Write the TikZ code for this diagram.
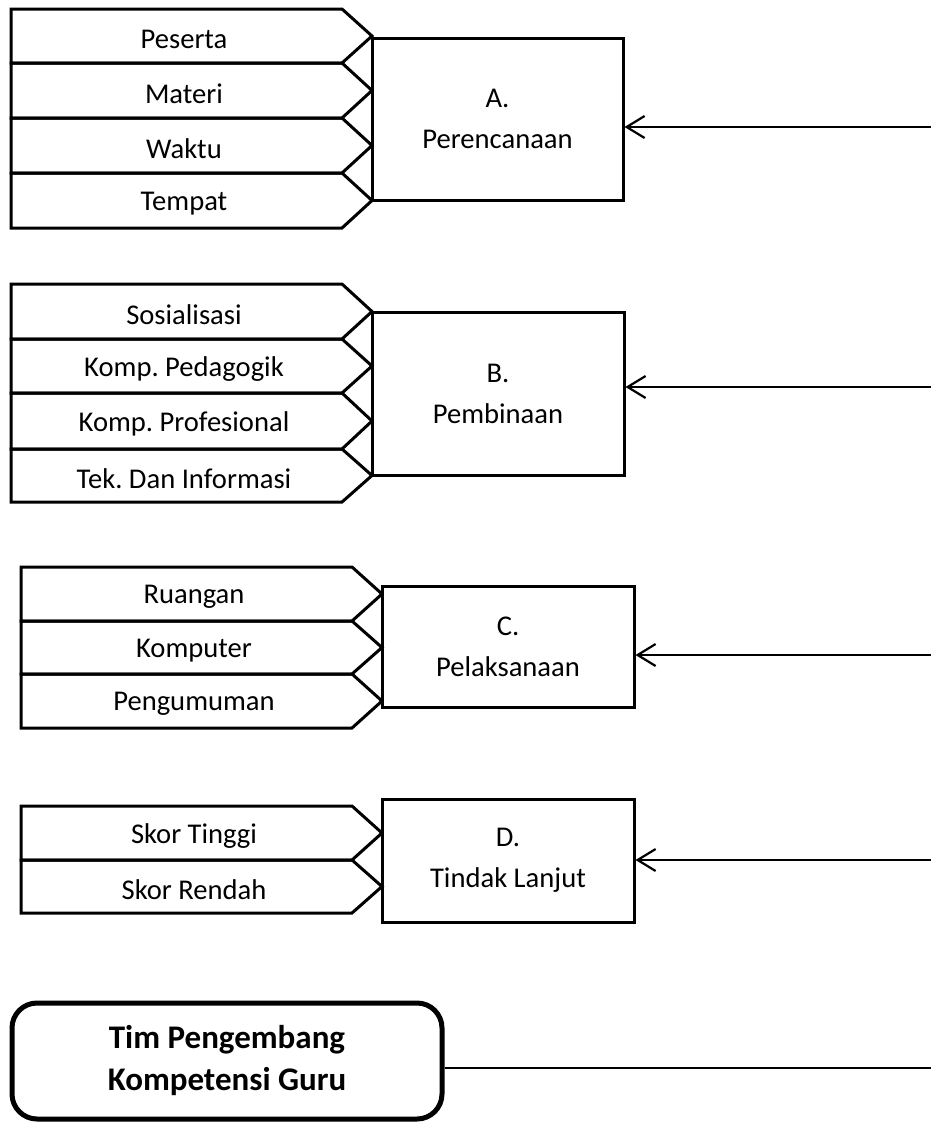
\documentclass[tikz,border=0pt]{standalone}
\usepackage{fontspec}
\setmainfont{Carlito}
\usepackage{tikz}
\usetikzlibrary{arrows.meta}
\frenchspacing
% one arrow-shaped row: name, left x, top y, bottom y, text
\newcommand{\chevrow}[5]{%
  \draw[chev] (#2,#3) -- ({#2+331},#3) -- ({#2+361},{(#3+#4)/2}) -- ({#2+331},#4) -- (#2,#4) -- cycle;
  \node[lbl] (#1) at ({#2+173},{(#3+#4)/2+3}) {#5};}

\begin{document}
\begin{tikzpicture}[x=0.5pt,y=-0.5pt,
    chev/.style={line width=1.5pt, line join=miter},
    lbl/.style={font=\fontsize{14.3}{20}\selectfont, inner sep=0pt},
    stage/.style={draw, line width=1.5pt, align=center, inner sep=0pt,
      font=\fontsize{14.3}{20.5}\selectfont},
    feed/.style={line width=1.1pt, {Straight Barb[length=9pt,width=11pt,line width=1.1pt]}-}]
		\useasboundingbox (0,0) rectangle (931,1124);
		%%%%% START %%%%%
		% A
		\chevrow{peserta}{11}{9}{63}{Peserta}
		\chevrow{materi}{11}{63}{118}{Materi}
		\chevrow{waktu}{11}{118}{173}{Waktu}
		\chevrow{tempat}{11}{173}{228}{Tempat}
		\node[stage, minimum width=125.5pt, minimum height=81pt] (perencanaan) at (497.5,119) {A.\\Perencanaan};
		
		% B
		\chevrow{sosialisasi}{11}{284}{339}{Sosialisasi}
		\chevrow{pedagogik}{11}{339}{393}{Komp. Pedagogik}
		\chevrow{profesional}{11}{393}{449}{Komp. Profesional}
		\chevrow{informasi}{11}{449}{502}{Tek. Dan Informasi}
		\node[stage, minimum width=126pt, minimum height=81.5pt] (pembinaan) at (498,393.5) {B.\\Pembinaan};
		
		% C
		\chevrow{ruangan}{21}{567}{621}{Ruangan}
		\chevrow{komputer}{21}{621}{674}{Komputer}
		\chevrow{pengumuman}{21}{674}{728}{Pengumuman}
		\node[stage, minimum width=126pt, minimum height=60.5pt] (pelaksanaan) at (508,646.5) {C.\\Pelaksanaan};
		
		% D
		\chevrow{tinggi}{21}{806}{860}{Skor Tinggi}
		\chevrow{rendah}{21}{860}{913}{Skor Rendah}
		\node[stage, minimum width=126pt, minimum height=61.5pt] (lanjut) at (508,860.5) {D.\\Tindak Lanjut};
		
		% tim
		\node[draw, line width=2.5pt, rounded corners=12.5pt, minimum width=215pt, minimum height=58pt,
		  align=center, font=\fontsize{16.5}{21}\selectfont\bfseries] (tim) at (227,1061) {Tim Pengembang\\Kompetensi Guru};
		
		\coordinate (inA) at (931,127);
		\coordinate (inB) at (931,387);
		\coordinate (inC) at (931,655);
		\coordinate (inD) at (931,860);
		\coordinate (out) at (931,1068);
		\draw[feed] (perencanaan.east |- inA) -- (inA);
		\draw[feed] (pembinaan.east |- inB) -- (inB);
		\draw[feed] (pelaksanaan.east |- inC) -- (inC);
		\draw[feed] (lanjut.east |- inD) -- (inD);
		\draw[line width=1pt] (tim.east |- out) -- (out);
		%%%%% END %%%%%
\end{tikzpicture}
\end{document}
